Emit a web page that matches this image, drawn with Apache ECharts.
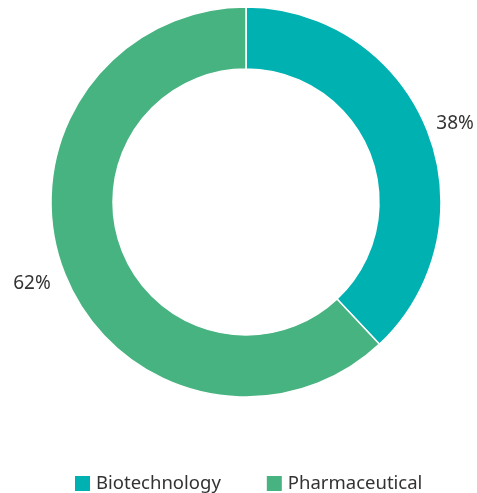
<!DOCTYPE html>
<html>
<head>
<meta charset="utf-8">
<script src="https://cdn.jsdelivr.net/npm/echarts@6/dist/echarts.min.js"></script>
<style>
  html, body { margin: 0; padding: 0; background: #fff; }
  #chart { width: 477px; height: 493px; }
</style>
</head>
<body>
<div id="chart"></div>
<script>
const categories = ['Biotechnology', 'Pharmaceutical']
const shares = [38, 62]
const colors = ['#00b1b1', '#47b380']

const chart = echarts.init(document.getElementById('chart'))
chart.setOption({
  animation: false,
  color: colors,
  textStyle: { fontFamily: 'Noto Sans' },
  legend: {
    top: 469,
    left: 68,
    itemWidth: 17,
    itemHeight: 17,
    itemGap: 44,
    icon: 'rect',
    textStyle: { fontSize: 18.5, color: '#333' },
    data: categories,
  },
  series: [{
    type: 'pie',
    center: [246, 202],
    radius: [133, 195],
    startAngle: 90,
    clockwise: true,
    itemStyle: { borderColor: '#fff', borderWidth: 1.5 },
    label: {
      show: true,
      position: 'outside',
      formatter: '{c}%',
      fontSize: 19,
      color: '#333',
      overflow: 'none',
      distanceToLabelLine: 0,
    },
    labelLine: { show: false, length: 0, length2: 0 },
    labelLayout: (p) => (p.dataIndex === 0 ? { dx: 9, dy: -7 } : { dx: -14, dy: 10 }),
    data: categories.map((name, i) => ({ name, value: shares[i] })),
  }],
})
</script>
</body>
</html>
